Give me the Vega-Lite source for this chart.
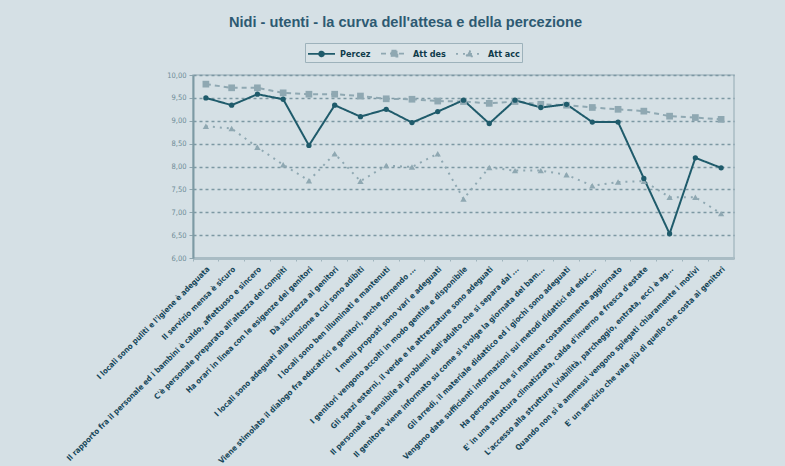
{
  "$schema": "https://vega.github.io/schema/vega-lite/v6.json",
  "width": 541,
  "height": 183,
  "autosize": {"type": "none"},
  "padding": {"left": 193, "top": 75, "right": 51, "bottom": 208},
  "background": "#d5e0e5",
  "title": {
    "text": "Nidi - utenti - la curva dell'attesa e della percezione",
    "anchor": "middle",
    "frame": "group",
    "dx": -58,
    "offset": 13,
    "font": "Liberation Sans",
    "fontSize": 14.6,
    "fontWeight": "bold",
    "color": "#2d5a72"
  },
  "config": {
    "view": {"stroke": "#a9bcc4", "strokeWidth": 1.5}
  },
  "data": {
    "values": [
      {"voce": "I locali sono puliti e l'igiene è adeguata", "Percez": 9.50, "Att des": 9.80, "Att acc": 8.88},
      {"voce": "Il servizio mensa è sicuro", "Percez": 9.34, "Att des": 9.72, "Att acc": 8.83},
      {"voce": "Il rapporto fra il personale ed i bambini  è caldo, affettuoso e sincero", "Percez": 9.58, "Att des": 9.72, "Att acc": 8.42},
      {"voce": "C'è personale  preparato all'altezza dei compiti", "Percez": 9.47, "Att des": 9.61, "Att acc": 8.04},
      {"voce": "Ha orari in linea con le esigenze dei genitori", "Percez": 8.46, "Att des": 9.58, "Att acc": 7.69},
      {"voce": "Dà sicurezza ai genitori", "Percez": 9.34, "Att des": 9.58, "Att acc": 8.28},
      {"voce": "I locali sono adeguati  alla funzione a cui sono adibiti", "Percez": 9.09, "Att des": 9.54, "Att acc": 7.68},
      {"voce": "I locali sono ben illuminati e mantenuti", "Percez": 9.25, "Att des": 9.48, "Att acc": 8.02},
      {"voce": "Viene stimolato il dialogo fra educatrici e genitori, anche fornendo ...", "Percez": 8.96, "Att des": 9.47, "Att acc": 7.99},
      {"voce": "I menù proposti sono vari e adeguati", "Percez": 9.20, "Att des": 9.43, "Att acc": 8.28},
      {"voce": "I genitori vengono accolti in modo gentile e disponibile", "Percez": 9.45, "Att des": 9.42, "Att acc": 7.29},
      {"voce": "Gli spazi esterni, il verde e le attrezzature sono adeguati", "Percez": 8.94, "Att des": 9.38, "Att acc": 7.98},
      {"voce": "Il personale è sensibile ai problemi dell'adulto che si separa dal ...", "Percez": 9.45, "Att des": 9.42, "Att acc": 7.91},
      {"voce": "Il genitore viene informato su come si svolge la giornata del bam...", "Percez": 9.29, "Att des": 9.36, "Att acc": 7.91},
      {"voce": "Gli arredi, il materiale didattico ed i giochi sono adeguati", "Percez": 9.36, "Att des": 9.34, "Att acc": 7.82},
      {"voce": "Vengono date sufficienti informazioni sui metodi didattici ed educ...", "Percez": 8.97, "Att des": 9.29, "Att acc": 7.58},
      {"voce": "Ha personale  che si mantiene costantemente aggiornato", "Percez": 8.97, "Att des": 9.25, "Att acc": 7.66},
      {"voce": "E' in una struttura climatizzata, calda d'inverno e fresca d'estate", "Percez": 7.74, "Att des": 9.21, "Att acc": 7.68},
      {"voce": "L'accesso alla struttura (viabilità, parcheggio, entrata, ecc) è ag...", "Percez": 6.53, "Att des": 9.10, "Att acc": 7.33},
      {"voce": "Quando non si è ammessi vengono spiegati  chiaramente i  motivi", "Percez": 8.19, "Att des": 9.07, "Att acc": 7.33},
      {"voce": "E' un servizio  che vale più di quello che costa ai genitori", "Percez": 7.97, "Att des": 9.03, "Att acc": 6.97}
    ]
  },
  "transform": [
    {"fold": ["Att acc", "Att des", "Percez"], "as": ["serie", "valore"]}
  ],
  "encoding": {
    "x": {
      "field": "voce",
      "type": "nominal",
      "sort": null,
      "scale": {"type": "band", "paddingInner": 0, "paddingOuter": 0},
      "axis": {
        "title": null,
        "labelAngle": -45,
        "labelFont": "DejaVu Sans Condensed, Liberation Sans, sans-serif",
        "labelFontSize": 7.8,
        "labelFontWeight": "bold",
        "labelColor": "#17475a",
        "labelLimit": 400,
        "labelPadding": 4,
        "labelOverlap": false,
        "bandPosition": 0,
        "tickSize": 3,
        "tickColor": "#9fb4bc",
        "domainColor": "#a9bcc4",
        "domainWidth": 3,
        "grid": false
      }
    },
    "y": {
      "field": "valore",
      "type": "quantitative",
      "scale": {"domain": [6, 10], "nice": false, "zero": false},
      "axis": {
        "title": null,
        "values": [6, 6.5, 7, 7.5, 8, 8.5, 9, 9.5, 10],
        "labelExpr": "replace(format(datum.value, '.2f'), '.', ',')",
        "labelFont": "DejaVu Sans Condensed, Liberation Sans, sans-serif",
        "labelFontSize": 7.5,
        "labelColor": "#6e8c97",
        "labelPadding": 3,
        "tickSize": 4,
        "tickColor": "#8ea5ae",
        "domainColor": "#7d9aa4",
        "domainWidth": 2,
        "grid": true,
        "gridDash": [3, 3],
        "gridColor": "#7d98a3",
        "gridWidth": 1.3
      }
    },
    "color": {
      "field": "serie",
      "type": "nominal",
      "scale": {"domain": ["Percez", "Att des", "Att acc"], "range": ["#1f5b6b", "#8fa8b2", "#8fa8b2"]},
      "legend": {
        "title": null,
        "orient": "none",
        "legendX": 112,
        "legendY": -32,
        "direction": "horizontal",
        "strokeColor": "#9db2bb",
        "fillColor": "#d9e3e7",
        "padding": 2,
        "symbolType": {"expr": "datum.value === 'Percez' ? 'M-1,0H2.6M0.47,0A0.33,0.33 0 1,0 1.13,0A0.33,0.33 0 1,0 0.47,0Z' : datum.value === 'Att des' ? 'M-1,0H2.6M0.4,-0.4H1.2V0.4H0.4Z' : 'M-1,0H2.6M0.8,-0.45L1.25,0.35H0.35Z'"},
        "symbolSize": 225,
        "symbolStrokeWidth": 1.6,
        "labelFont": "DejaVu Sans Condensed, Liberation Sans, sans-serif",
        "labelFontSize": 9,
        "labelFontWeight": "bold",
        "labelColor": "#0e3b4b",
        "labelOffset": 16,
        "columnPadding": 6
      }
    }
  },
  "layer": [
    {
      "mark": {"type": "line", "strokeWidth": 2},
      "encoding": {
        "strokeDash": {
          "field": "serie",
          "type": "nominal",
          "scale": {"domain": ["Percez", "Att des", "Att acc"], "range": [[1, 0], [5, 4], [2, 5]]},
          "legend": {
            "title": null,
            "orient": "none",
            "legendX": 112,
            "legendY": -32,
            "direction": "horizontal",
            "strokeColor": "#9db2bb",
            "fillColor": "#d9e3e7",
            "padding": 2,
            "symbolType": {"expr": "datum.value === 'Percez' ? 'M-1,0H2.6M0.47,0A0.33,0.33 0 1,0 1.13,0A0.33,0.33 0 1,0 0.47,0Z' : datum.value === 'Att des' ? 'M-1,0H2.6M0.4,-0.4H1.2V0.4H0.4Z' : 'M-1,0H2.6M0.8,-0.45L1.25,0.35H0.35Z'"},
            "symbolSize": 225,
            "symbolStrokeWidth": 1.6,
            "labelFont": "DejaVu Sans Condensed, Liberation Sans, sans-serif",
            "labelFontSize": 9,
            "labelFontWeight": "bold",
            "labelColor": "#0e3b4b",
            "labelOffset": 16,
            "columnPadding": 6
          }
        }
      }
    },
    {
      "mark": {"type": "point", "filled": true, "opacity": 1},
      "encoding": {
        "shape": {
          "condition": [
            {"test": "datum.serie === 'Percez'", "value": "circle"},
            {"test": "datum.serie === 'Att des'", "value": "square"}
          ],
          "value": "triangle-up"
        },
        "size": {
          "condition": [
            {"test": "datum.serie === 'Percez'", "value": 28},
            {"test": "datum.serie === 'Att des'", "value": 45}
          ],
          "value": 40
        }
      }
    }
  ]
}
